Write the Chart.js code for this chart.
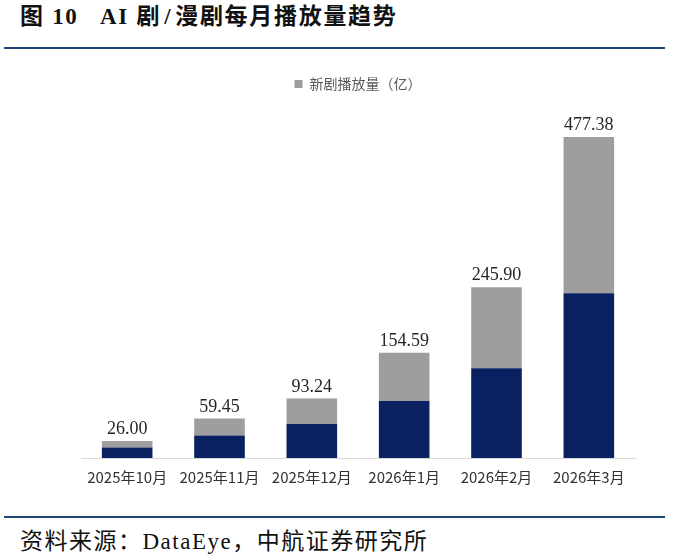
<!DOCTYPE html>
<html>
<head>
<meta charset="utf-8">
<script src="https://cdn.jsdelivr.net/npm/chart.js@4.4.1/dist/chart.umd.min.js"></script>
<style>
  body { margin: 0; background: #fff; }
  #page { position: relative; width: 676px; height: 558px; overflow: hidden; background: #fff; }
  .title { position: absolute; top: 2px; font: bold 23px "Liberation Serif", "Noto Sans CJK SC", serif; color: #111; letter-spacing: 1.7px; white-space: nowrap; line-height: 30px; }
  .rule { position: absolute; left: 4px; width: 661px; height: 1.5px; background: #1f4677; }
  .source { position: absolute; left: 20px; top: 527px; font: 23px "Liberation Serif", "Noto Sans CJK SC", serif; color: #111; letter-spacing: 1.5px; white-space: nowrap; line-height: 30px; }
  #box { position: absolute; left: 0; top: 60px; width: 676px; height: 440px; }
</style>
</head>
<body>
<div id="page">
  <div class="title" style="left:20px">图 10</div>
  <div class="title" style="left:100px">AI 剧<span style="margin:0 3px">/</span>漫剧每月播放量趋势</div>
  <div class="rule" style="top:47px"></div>
  <div id="box"><canvas id="chart"></canvas></div>
  <div class="rule" style="top:516px"></div>
  <div class="source">资料来源：DataEye，中航证券研究所</div>
</div>
<script>
const months = ["2025年10月", "2025年11月", "2025年12月", "2026年1月", "2026年2月", "2026年3月"];
// lower (navy) and upper (grey) parts
const baseValues = [15.5, 33.4, 50.7, 84.9, 133.6, 244.9];
const newDramaValues = [9.8, 25.3, 37.8, 71.5, 120.2, 232.4];
// totals printed above each bar
const totalLabels = ["26.00", "59.45", "93.24", "154.59", "245.90", "477.38"];

const totalsPlugin = {
    id: "totals",
    afterDatasetsDraw(chart) {
        const ctx = chart.ctx;
        const meta = chart.getDatasetMeta(1);
        ctx.save();
        ctx.font = '18px "Liberation Serif", serif';
        ctx.fillStyle = "#262626";
        ctx.textAlign = "center";
        ctx.textBaseline = "alphabetic";
        meta.data.forEach((bar, i) => {
            ctx.fillText(totalLabels[i], bar.x, bar.y - 7);
        });
        ctx.restore();
    }
};

new Chart(document.getElementById("chart").getContext("2d"), {
    type: "bar",
    data: {
        labels: months,
        datasets: [{
            label: "存量播放量（亿）",
            data: baseValues,
            backgroundColor: "#0a2161",
            barPercentage: 0.548,
            categoryPercentage: 1
        }, {
            label: "新剧播放量（亿）",
            data: newDramaValues,
            backgroundColor: "#9e9e9e",
            barPercentage: 0.548,
            categoryPercentage: 1
        }]
    },
    options: {
        responsive: true,
        maintainAspectRatio: false,
        animation: false,
        layout: { padding: { left: 81, right: 41, top: 7, bottom: 4 } },
        plugins: {
            legend: {
                position: "top",
                labels: {
                    boxWidth: 8,
                    boxHeight: 8,
                    padding: 10,
                    color: "#595959",
                    font: { size: 14, family: '"Noto Sans CJK SC", sans-serif' },
                    filter: item => item.datasetIndex === 1
                }
            },
            tooltip: { enabled: false }
        },
        scales: {
            x: {
                stacked: true,
                grid: { display: false, drawTicks: false },
                border: { display: true, color: "#d9d9d9", width: 1 },
                ticks: {
                    color: "#333",
                    padding: 10,
                    font: { size: 15, family: '"Noto Sans CJK SC", sans-serif' }
                }
            },
            y: {
                stacked: true,
                display: false,
                min: 0,
                max: 531
            }
        }
    },
    plugins: [totalsPlugin]
});
</script>
</body>
</html>
